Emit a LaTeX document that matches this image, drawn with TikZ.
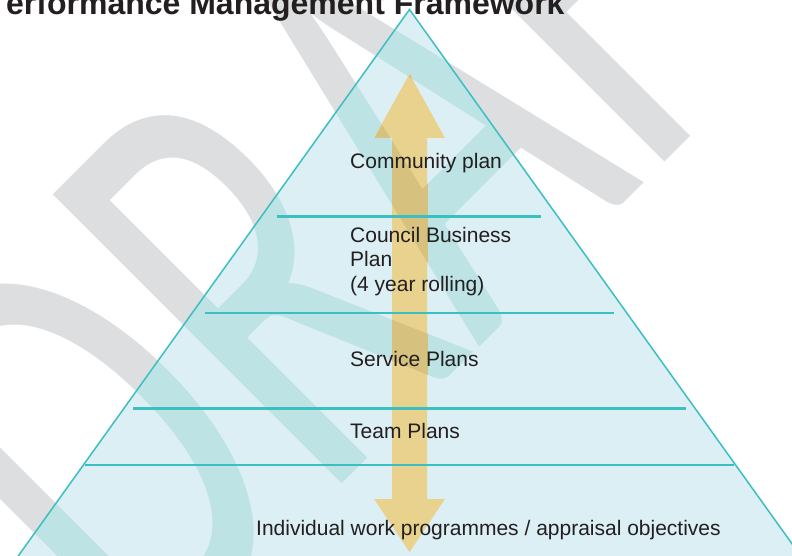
\documentclass[tikz,border=0pt]{standalone}
\usepackage{fontspec}
\setmainfont{Liberation Sans}
\newfontfamily\wmfont{Carlito}
\definecolor{wmgrey}{HTML}{DDDEE0}
\definecolor{wmcyan}{HTML}{BDE3E4}
\definecolor{wmgold}{HTML}{D6C27E}
\definecolor{trifill}{HTML}{DCEFF4}
\definecolor{teal}{HTML}{3BBFC1}
\definecolor{gold}{HTML}{E8D28E}
\definecolor{txt}{HTML}{231F20}
\newcommand\wmdraw[2]{%
  \begin{scope}[shift={(144.3,-682)},rotate=45,xscale=0.64]
    \node[transform shape,anchor=base west,inner sep=0pt,outer sep=0pt,text=#1,
      font=\wmfont\fontsize{637}{637}\selectfont] (#2) at (0,0) {DRAFT};
  \end{scope}}
\begin{document}
\begin{tikzpicture}[x=1pt,y=1pt,
  lbl/.style={anchor=base west,inner sep=0pt,text=txt,font=\fontsize{21}{24.5}\selectfont},
  tier/.style={draw=teal,line width=2.3pt},
  tri/.style={draw=teal,line width=1.5pt}]
\fill[white] (0,0) rectangle (792,-556);
\useasboundingbox (0,0) rectangle (792,-556);
% watermark outside
\wmdraw{wmgrey}{wma}
% pyramid fill
\fill[trifill] (409.5,-9.5) -- (8.2,-570) -- (810.8,-570) -- cycle;
\begin{scope}
  \clip (409.5,-9.5) -- (8.2,-570) -- (810.8,-570) -- cycle;
  \wmdraw{wmcyan}{wmb}
\end{scope}
% double arrow
\fill[gold] (409.5,-74) -- (445,-138) -- (427,-138) -- (427,-499) -- (445,-499)
  -- (409.5,-552) -- (374,-499) -- (392,-499) -- (392,-138) -- (374,-138) -- cycle;
\begin{scope}
  \clip (409.5,-74) -- (445,-138) -- (427,-138) -- (427,-499) -- (445,-499)
  -- (409.5,-552) -- (374,-499) -- (392,-499) -- (392,-138) -- (374,-138) -- cycle;
  \wmdraw{wmgold}{wmc}
\end{scope}
% pyramid outline and tiers
\draw[tri] (8.2,-570) -- (409.5,-9.5) -- (810.8,-570);
\draw[tier] (277,-216.5) -- (541,-216.5);
\draw[tier] (205,-313) -- (614,-313);
\draw[tier] (133,-408.5) -- (686,-408.5);
\draw[tier] (85,-465) -- (734,-465);
% labels
\node[lbl] (community) at (350,-169) {Community plan};
\node[lbl] (council1) at (350,-242) {Council Business};
\node[lbl] (council2) at (350,-266.5) {Plan};
\node[lbl] (council3) at (350,-291) {(4 year rolling)};
\node[lbl] (service) at (350,-366) {Service Plans};
\node[lbl] (team) at (350,-438) {Team Plans};
\node[lbl] (indiv) at (256,-535) {Individual work programmes / appraisal objectives};
\node[anchor=base west,inner sep=0pt,text=txt,font=\bfseries\fontsize{32}{36}\selectfont] (title) at (6,-14.5) {erformance Management Framework};
\end{tikzpicture}
\end{document}
